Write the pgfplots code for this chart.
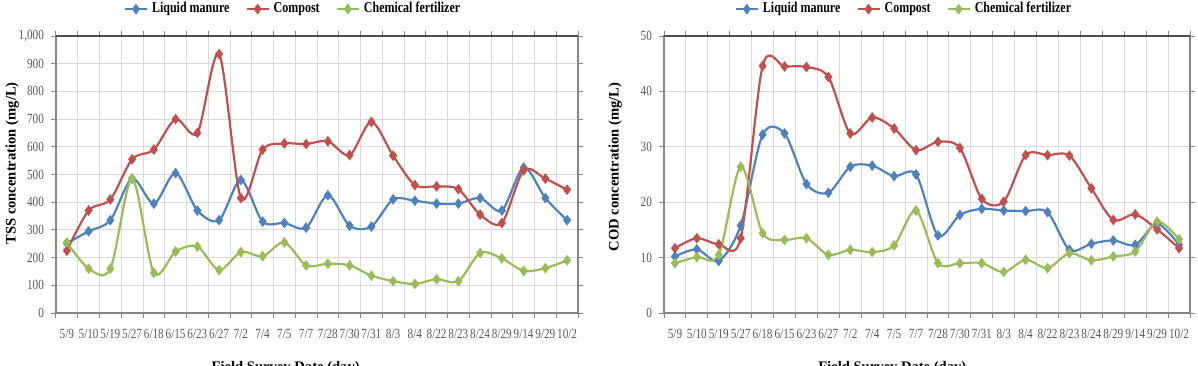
\documentclass[border=0pt]{standalone}
\usepackage{fontspec}
\setmainfont{Liberation Serif}
\newfontfamily\tickfont{Liberation Serif}[FakeStretch=0.8]
\usepackage{pgfplots}
\usepackage{pgfplotstable}
\pgfplotsset{compat=1.18}
\definecolor{cBlue}{HTML}{4F81BD}
\definecolor{cRed}{HTML}{C0504D}
\definecolor{cGreen}{HTML}{9BBB59}
\definecolor{cGrid}{HTML}{D9D9D9}
\definecolor{cAxis}{HTML}{868686}
\definecolor{cTick}{HTML}{595959}

\pgfplotstableread{
x lm co cf
0 252 225 255
1 295 370 160
2 335 410 160
3 485 555 485
4 395 590 145
5 505 700 222
6 370 650 240
7 335 935 155
8 480 415 220
9 330 590 205
10 325 612 255
11 308 610 172
12 425 620 178
13 315 570 172
14 312 690 135
15 410 568 115
16 405 462 105
17 395 457 122
18 395 447 115
19 415 355 217
20 370 325 197
21 525 515 152
22 415 485 162
23 335 445 190
}\tssdata

\pgfplotstableread{
x lm co cf
0 10.2 11.7 9.0
1 11.5 13.5 10.1
2 9.4 12.4 10.5
3 15.8 13.5 26.4
4 32.2 44.6 14.4
5 32.4 44.5 13.2
6 23.3 44.4 13.5
7 21.7 42.6 10.5
8 26.4 32.4 11.4
9 26.6 35.3 11.0
10 24.7 33.3 12.2
11 25.0 29.4 18.5
12 14.0 30.9 9.0
13 17.7 29.8 9.0
14 18.8 20.6 9.0
15 18.5 20.1 7.4
16 18.4 28.5 9.6
17 18.2 28.5 8.1
18 11.4 28.4 10.8
19 12.5 22.5 9.5
20 13.1 16.8 10.2
21 12.3 17.8 11.1
22 16.1 15.1 16.5
23 12.3 11.7 13.3
}\coddata

\pgfplotsset{
  mychart/.style={
    scale only axis, anchor=south west, height=138.5pt,
    xmin=-0.5, xmax=23.5, xtick={0,...,23},
    xticklabels={5/9,5/10,5/19,5/27,6/18,6/15,6/23,6/27,7/2,7/4,7/5,7/7,7/28,7/30,7/31,8/3,8/4,8/22,8/23,8/24,8/29,9/14,9/29,10/2},
    major x tick style={draw=none},
    minor xtick={-0.5,0.5,...,23.5},
    xminorgrids=true, ymajorgrids=true,
    minor grid style={cGrid, line width=0.5pt},
    major grid style={cGrid, line width=0.5pt},
    minor x tick style={cAxis, line width=0.5pt},
    ytick style={cAxis, line width=0.5pt},
    tick align=outside, major tick length=2.5pt, minor tick length=2.5pt,
    xticklabel shift=2pt,
    axis line style={cAxis, line width=0.6pt},
    tick label style={font=\tickfont\fontsize{7}{7}\selectfont, text=cTick},
    /pgf/number format/assume math mode=true,
    ylabel style={font=\bfseries\fontsize{7.3}{8}\selectfont, anchor=center},
    xlabel style={font=\bfseries\fontsize{7.3}{8}\selectfont, anchor=north, inner sep=0pt},
    legend style={draw=none, fill=none, legend columns=3,
      font=\tickfont\bfseries\fontsize{7.5}{8}\selectfont, anchor=center,
      /tikz/every even column/.append style={column sep=6pt}},
    legend image code/.code={\draw[##1, mark repeat=2, mark phase=2] plot coordinates {(0pt,0pt) (5.5pt,0pt) (11pt,0pt)};},
    every axis plot/.append style={line width=1.1pt, smooth, tension=0.5, mark=diamond*, mark size=1.8pt, mark options={solid}},
    after end axis/.code={\draw[black!70, line width=0.6pt] (rel axis cs:0,1) -- (rel axis cs:1,1);},
  }
}

\begin{document}
\begin{tikzpicture}
\useasboundingbox (0,0) rectangle (599pt,182.5pt);
\clip (0,0) rectangle (599pt,182.5pt);
\begin{axis}[mychart, at={(28pt,26pt)}, width=261pt,
  ymin=0, ymax=1000, ytick={0,100,...,1000},
  ylabel={TSS concentration (mg/L)},
  ylabel style={at={(axis description cs:-0.084,0.54)}},
  xlabel={Field Survey Date (day)},
  xlabel style={at={(axis description cs:0.44,-0.173)}},
  legend style={at={(axis description cs:0.456,1.097)}},
]
\addplot[cBlue] table[x=x, y=lm] {\tssdata};
\addplot[cRed] table[x=x, y=co] {\tssdata};
\addplot[cGreen] table[x=x, y=cf] {\tssdata};
\legend{Liquid manure, Compost, Chemical fertilizer}
\end{axis}
\begin{axis}[mychart, at={(332pt,26pt)}, width=263pt,
  ymin=0, ymax=50, ytick={0,10,...,50},
  ylabel={COD concentration (mg/L)},
  ylabel style={at={(axis description cs:-0.093,0.527)}},
  xlabel={Field Survey Date (day)},
  xlabel style={at={(axis description cs:0.434,-0.173)}},
  legend style={at={(axis description cs:0.458,1.097)}},
]
\addplot[cBlue] table[x=x, y=lm] {\coddata};
\addplot[cRed] table[x=x, y=co] {\coddata};
\addplot[cGreen] table[x=x, y=cf] {\coddata};
\legend{Liquid manure, Compost, Chemical fertilizer}
\end{axis}
\end{tikzpicture}
\end{document}
